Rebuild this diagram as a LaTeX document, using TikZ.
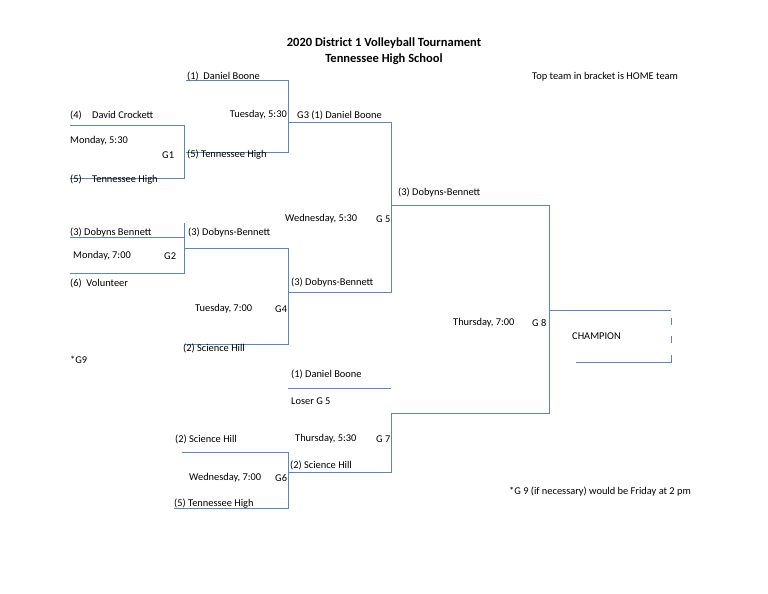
\documentclass[tikz,border=0pt]{standalone}
\usepackage{fontspec}
\setmainfont{Carlito}
\definecolor{br}{HTML}{5B86BD}
\begin{document}
\begin{tikzpicture}[x=1pt,y=-1pt,
  t/.style={anchor=west,inner sep=0pt,font=\fontsize{10.4}{12}\selectfont},
  ln/.style={draw=br,line width=0.8pt}]
\useasboundingbox[fill=white] (0,0) rectangle (768,594);
\node[font=\bfseries\fontsize{12.5}{14}\selectfont] (t1) at (384,43) {2020 District 1 Volleyball Tournament};
\node[font=\bfseries\fontsize{12.5}{14}\selectfont] (t2) at (384,59) {Tennessee High School};
\node[t] (home) at (532,77) {Top team in bracket is HOME team};
% lines
\draw[ln] (186,80) -- (288,80) -- (288,152) -- (186,152);
\draw[ln] (288,122) -- (391,122) -- (391,292) -- (288,292);
\draw[ln] (70,125) -- (184,125) -- (184,178) -- (70,178);
\draw[ln] (70,237) -- (184,237);
\draw[ln] (184,223) -- (184,273) -- (70,273);
\draw[ln] (184,248) -- (288,248) -- (288,344) -- (185,344);
\draw[ln] (391,205) -- (549,205) -- (549,413) -- (391,413) -- (391,472) -- (288,472);
\draw[ln] (288,388) -- (391,388);
\draw[ln] (182,452) -- (288,452) -- (288,508) -- (174,508);
\draw[ln] (549,310) -- (671,310);
\draw[ln] (576,362) -- (671,362) -- (671,355);
\draw[ln] (671,318) -- (671,325);
\draw[ln] (671,336) -- (671,343);
% texts
\node[t] at (187,76) {(1)\ \ Daniel Boone};
\node[t] at (70,115) {(4)\quad David Crockett};
\node[t,anchor=east] at (287,115) {Tuesday, 5:30};
\node[t] at (297,115) {G3 (1) Daniel Boone};
\node[t] at (70,141) {Monday, 5:30};
\node[t] at (162,155) {G1};
\node[t] at (187,155) {(5) Tennessee High};
\node[t] at (70,180) {(5)\quad Tennessee High};
\node[t] at (398,193) {(3) Dobyns-Bennett};
\node[t] at (285,219) {Wednesday, 5:30};
\node[t] at (376,219) {G 5};
\node[t] at (70,233) {(3) Dobyns Bennett};
\node[t] at (188,233) {(3) Dobyns-Bennett};
\node[t] at (73,256) {Monday, 7:00};
\node[t] at (164,256) {G2};
\node[t] at (70,283) {(6)\ \ Volunteer};
\node[t] at (291,283) {(3) Dobyns-Bennett};
\node[t] at (195,309) {Tuesday, 7:00};
\node[t] at (275,309) {G4};
\node[t] at (453,323) {Thursday, 7:00};
\node[t] at (532,323) {G 8};
\node[t] at (572,336) {CHAMPION};
\node[t] at (183,348) {(2) Science Hill};
\node[t] at (70,360) {*G9};
\node[t] at (291,374) {(1) Daniel Boone};
\node[t] at (291,401) {Loser G 5};
\node[t] at (175,439) {(2) Science Hill};
\node[t] at (295,439) {Thursday, 5:30};
\node[t] at (376,439) {G 7};
\node[t] at (290,465) {(2) Science Hill};
\node[t] at (189,478) {Wednesday, 7:00};
\node[t] at (275,478) {G6};
\node[t] at (509,492) {*G 9 (if necessary) would be Friday at 2 pm};
\node[t] at (174,504) {(5) Tennessee High};
\end{tikzpicture}
\end{document}
